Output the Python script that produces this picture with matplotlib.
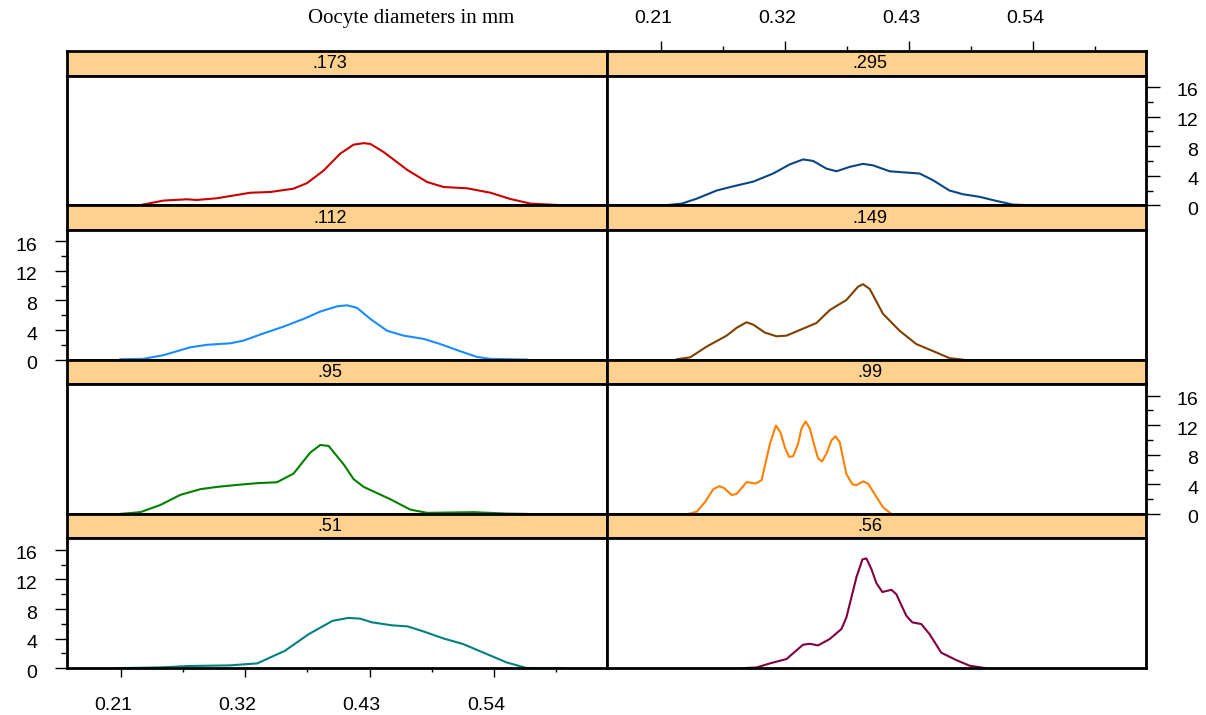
import matplotlib.pyplot as plt
import matplotlib.transforms as mtransforms

# oocyte diameter density curves
x173 = [0.2035, 0.2272, 0.2478, 0.2685, 0.2773, 0.2950, 0.3245, 0.3422, 0.3628, 0.3747, 0.3894, 0.4042,
        0.4159, 0.4248, 0.4307, 0.4425, 0.4632, 0.4809, 0.4956, 0.5163, 0.5369, 0.5546, 0.5723, 0.6018]
y173 = [0, 0.02, 0.64, 0.81, 0.72, 0.95, 1.7, 1.8, 2.25, 3.0, 4.7, 7.0,
        8.2, 8.4, 8.3, 7.2, 4.8, 3.15, 2.47, 2.3, 1.7, 0.85, 0.23, 0]

x295 = [0.2135, 0.2283, 0.2416, 0.2593, 0.2740, 0.2917, 0.3094, 0.3242, 0.3359, 0.3448, 0.3566, 0.3655,
        0.3773, 0.3890, 0.3979, 0.4127, 0.4244, 0.4392, 0.4510, 0.4657, 0.4775, 0.4923, 0.5071, 0.5218, 0.5395]
y295 = [0, 0.23, 0.9, 2.0, 2.57, 3.2, 4.3, 5.54, 6.2, 6.0, 4.96, 4.6,
        5.2, 5.6, 5.4, 4.6, 4.46, 4.3, 3.4, 2.0, 1.5, 1.15, 0.6, 0.1, 0]

x112 = [0.2095, 0.2301, 0.2478, 0.2714, 0.2862, 0.3068, 0.3186, 0.3363, 0.3540, 0.3717, 0.3865, 0.4012,
        0.4101, 0.4189, 0.4307, 0.4455, 0.4602, 0.4779, 0.4926, 0.5104, 0.5251, 0.5369, 0.5694]
y112 = [0.05, 0.1, 0.6, 1.66, 2.0, 2.2, 2.57, 3.55, 4.46, 5.5, 6.5, 7.2,
        7.34, 7.0, 5.5, 3.9, 3.24, 2.8, 2.1, 1.12, 0.36, 0.1, 0]

x149 = [0.2239, 0.2357, 0.2504, 0.2681, 0.2770, 0.2858, 0.2917, 0.3020, 0.3124, 0.3212, 0.3330, 0.3478,
        0.3596, 0.3743, 0.3846, 0.3890, 0.3950, 0.4067, 0.4215, 0.4363, 0.4540, 0.4657, 0.4775]
y149 = [0.05, 0.3, 1.76, 3.24, 4.3, 5.05, 4.73, 3.65, 3.15, 3.24, 4.0, 4.95,
        6.7, 8.06, 9.85, 10.2, 9.55, 6.2, 3.9, 2.1, 0.97, 0.2, 0]

x95 = [0.2095, 0.2272, 0.2449, 0.2626, 0.2803, 0.2950, 0.3127, 0.3304, 0.3481, 0.3628, 0.3776, 0.3865,
       0.3938, 0.4071, 0.4159, 0.4248, 0.4484, 0.4661, 0.4809, 0.5221, 0.5517, 0.5694]
y95 = [0, 0.23, 1.2, 2.57, 3.34, 3.65, 3.92, 4.15, 4.28, 5.45, 8.3, 9.32,
       9.19, 6.7, 4.7, 3.65, 1.98, 0.58, 0.14, 0.23, 0.04, 0]

x99 = [0.2342, 0.2416, 0.2489, 0.2563, 0.2616, 0.2658, 0.2726, 0.2770, 0.2858, 0.2941, 0.2991, 0.3065,
       0.3118, 0.3159, 0.3197, 0.3235, 0.3271, 0.3315, 0.3345, 0.3381, 0.3419, 0.3454, 0.3492, 0.3527,
       0.3566, 0.3611, 0.3646, 0.3684, 0.3743, 0.3796, 0.3832, 0.3890, 0.3935, 0.4009, 0.4067, 0.4142]
y99 = [0, 0.3, 1.6, 3.35, 3.75, 3.5, 2.55, 2.7, 4.3, 4.1, 4.56, 9.5,
       11.95, 11.0, 9.0, 7.7, 7.8, 9.5, 11.55, 12.5, 11.55, 9.5, 7.5, 7.1,
       8.15, 9.95, 10.5, 9.7, 5.4, 4.0, 3.88, 4.4, 4.1, 2.3, 0.9, 0]

x51 = [0.2048, 0.2433, 0.2712, 0.3062, 0.3307, 0.3552, 0.3762, 0.3972, 0.4112, 0.4217, 0.4322, 0.4497,
       0.4637, 0.4777, 0.4952, 0.5127, 0.5302, 0.5512, 0.5687, 0.6019]
y51 = [0, 0.1, 0.3, 0.38, 0.65, 2.36, 4.6, 6.4, 6.8, 6.7, 6.2, 5.8,
       5.65, 4.97, 4.03, 3.27, 2.14, 0.78, 0.03, 0]

x56 = [0.2814, 0.2947, 0.3065, 0.3212, 0.3359, 0.3419, 0.3492, 0.3596, 0.3699, 0.3743, 0.3832, 0.3885,
       0.3920, 0.3965, 0.4009, 0.4062, 0.4142, 0.4186, 0.4274, 0.4327, 0.4407, 0.4481, 0.4584, 0.4717,
       0.4835, 0.4982]
y56 = [0, 0.1, 0.65, 1.24, 3.18, 3.3, 3.08, 3.95, 5.3, 6.86, 12.3, 14.7,
       14.85, 13.4, 11.5, 10.3, 10.6, 10.0, 7.1, 6.2, 5.97, 4.6, 2.1, 1.1,
       0.34, 0]

labels = ['.173', '.295', '.112', '.149', '.95', '.99', '.51', '.56']
xs = [x173, x295, x112, x149, x95, x99, x51, x56]
ys = [y173, y295, y112, y149, y95, y99, y51, y56]
colors = ['#C80000', '#0A4586', '#1A8CFF', '#7F4000', '#008000', '#FF8000', '#008080', '#800040']

x_major = [0.21, 0.32, 0.43, 0.54]
x_minor = [0.265, 0.375, 0.485, 0.595]
y_major = [0, 4, 8, 12, 16]
y_minor = [2, 6, 10, 14]

plt.rcParams['font.family'] = ['Liberation Sans', 'DejaVu Sans']

W, H = 1206, 715
fig = plt.figure(figsize=(W / 100, H / 100), dpi=100)


def rect(x0, y0, x1, y1):
    return [x0 / W, 1 - y1 / H, (x1 - x0) / W, (y1 - y0) / H]


def shift(texts, dx, dy):
    off = mtransforms.ScaledTranslation(dx / 100, -dy / 100, fig.dpi_scale_trans)
    for t in texts:
        t.set_transform(t.get_transform() + off)


col_x = [(66.5, 607), (607, 1146)]
top = 51
row_h = 154.3
strip_h = 24.5
xlim = (0.162, 0.640)
ylim = (0, 17.55)
strip_col = '#FFD18E'
tick_fs = 14

for i in range(8):
    r, c = divmod(i, 2)
    x0, x1 = col_x[c]
    ys0 = top + r * row_h

    sax = fig.add_axes(rect(x0, ys0, x1, ys0 + strip_h))
    sax.set_facecolor(strip_col)
    sax.set_xlim(xlim)
    sax.set_yticks([])
    sax.text(0.487, 0.47, labels[i], transform=sax.transAxes, ha='center', va='center', fontsize=13)

    ax = fig.add_axes(rect(x0, ys0 + strip_h, x1, ys0 + row_h))
    ax.plot(xs[i], ys[i], color=colors[i], lw=1.5)
    ax.set_xlim(xlim)
    ax.set_ylim(ylim)

    for a in (sax, ax):
        for sp in a.spines.values():
            sp.set_linewidth(2)
            sp.set_zorder(5)

    # top axis above the first right strip
    if r == 0 and c == 1:
        sax.xaxis.tick_top()
        sax.set_xticks(x_major)
        sax.set_xticklabels([f'{v:.2f}' for v in x_major])
        sax.set_xticks(x_minor, minor=True)
        sax.tick_params(axis='x', which='major', length=7.5, width=1, pad=10, labelsize=tick_fs)
        sax.tick_params(axis='x', which='minor', length=3.5, width=1)
        shift([t.label2 for t in sax.xaxis.get_major_ticks()], -8, 0)
    else:
        sax.set_xticks([])

    # bottom axis under the last left panel
    if r == 3 and c == 0:
        ax.set_xticks(x_major)
        ax.set_xticklabels([f'{v:.2f}' for v in x_major])
        ax.set_xticks(x_minor, minor=True)
        ax.tick_params(axis='x', which='major', length=6.5, width=1, pad=14, labelsize=tick_fs)
        ax.tick_params(axis='x', which='minor', length=3, width=1)
        shift(ax.get_xticklabels(), -8, 0)
    else:
        ax.set_xticks([])

    # y axis alternates: right side on rows 1 and 3, left side on rows 2 and 4
    if (r % 2 == 0 and c == 1) or (r % 2 == 1 and c == 0):
        ax.set_yticks(y_major)
        ax.set_yticks(y_minor, minor=True)
        if c == 1:
            ax.yaxis.tick_right()
            ax.tick_params(axis='y', which='major', length=10, width=1, pad=27.5, labelsize=tick_fs)
            ax.tick_params(axis='y', which='minor', length=5, width=1)
            labs = [t.label2 for t in ax.yaxis.get_major_ticks()]
            for t in labs:
                t.set_ha('right')
        else:
            ax.tick_params(axis='y', which='major', length=8.5, width=1, pad=12.5, labelsize=tick_fs)
            ax.tick_params(axis='y', which='minor', length=4.3, width=1)
            labs = ax.get_yticklabels()
        shift(labs, 0, 3)
    else:
        ax.set_yticks([])

fig.text(411 / W, 1 - 18 / H, 'Oocyte diameters in mm', ha='center', va='center',
         family='Liberation Serif', fontsize=15)

fig.savefig('out.png', dpi=100)
